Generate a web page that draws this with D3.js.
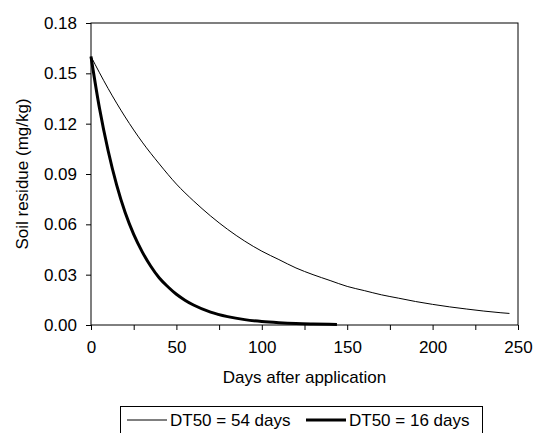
<!DOCTYPE html>
<html>
<head>
<meta charset="utf-8">
<script src="https://cdn.jsdelivr.net/npm/d3@7"></script>
<style>
  body { margin: 0; background: white; }
  text { font-family: "Liberation Sans", Arial, sans-serif; fill: black; }
</style>
</head>
<body>
<div id="chart"></div>
<script>
// Values.
let days54 = [0, 10, 20, 30, 40, 50, 60, 70, 80, 90, 100, 110, 120, 130, 140, 150, 160, 170, 180, 190, 200, 210, 220, 230, 240, 245];
let residue54 = [0.160, 0.141, 0.124, 0.109, 0.096, 0.084, 0.074, 0.065, 0.057, 0.050, 0.044, 0.039, 0.034, 0.030, 0.0265, 0.023, 0.0205, 0.018, 0.016, 0.014, 0.0123, 0.0108, 0.0095, 0.0083, 0.0073, 0.0069];

let days16 = [0, 5, 10, 15, 20, 25, 30, 35, 40, 45, 50, 55, 60, 70, 80, 90, 100, 110, 120, 130, 144];
let residue16 = [0.160, 0.129, 0.104, 0.0835, 0.067, 0.054, 0.0436, 0.035, 0.028, 0.0228, 0.0183, 0.0148, 0.0119, 0.0077, 0.0050, 0.0032, 0.0021, 0.0014, 0.0009, 0.0006, 0.0003];

let xTicks = [0, 50, 100, 150, 200, 250];
let xMinorTicks = [0, 25, 50, 75, 100, 125, 150, 175, 200, 225, 250];
let yTicks = [0, 0.03, 0.06, 0.09, 0.12, 0.15, 0.18];

let seriesNames = ["DT50 = 54 days", "DT50 = 16 days"];

let width = 533, height = 433;
let margin = {left: 91, right: 15, top: 23, bottom: 108};

let svg = d3.select("#chart").append("svg")
  .attr("width", width)
  .attr("height", height);

let x = d3.scaleLinear().domain([0, 250]).range([margin.left, width - margin.right]);
let y = d3.scaleLinear().domain([0, 0.18]).range([height - margin.bottom, margin.top]);

// Frame round the plot.
svg.append("rect")
  .attr("x", x(0))
  .attr("y", y(0.18))
  .attr("width", x(250) - x(0))
  .attr("height", y(0) - y(0.18))
  .attr("fill", "none")
  .attr("stroke", "black")
  .attr("stroke-width", 1);

// X axis: ticks every 25, labels every 50.
let xaxis = svg.append("g")
  .attr("transform", `translate(0,${y(0)})`)
  .call(d3.axisBottom(x).tickValues(xMinorTicks).tickSize(5).tickFormat(d => xTicks.includes(d) ? d : ""));
xaxis.select(".domain").remove();
xaxis.selectAll("text").style("font-size", "17px").attr("dy", "0").attr("y", 28);

// Y axis.
let yaxis = svg.append("g")
  .attr("transform", `translate(${x(0)},0)`)
  .call(d3.axisLeft(y).tickValues(yTicks).tickSize(5).tickFormat(d3.format(".2f")));
yaxis.select(".domain").remove();
yaxis.selectAll("text").style("font-size", "17px").attr("x", -14);

// Axis titles.
svg.append("text")
  .attr("x", (x(0) + x(250)) / 2)
  .attr("y", 383)
  .attr("text-anchor", "middle")
  .style("font-size", "17px")
  .text("Days after application");

svg.append("text")
  .attr("transform", `translate(28,${(y(0) + y(0.18)) / 2}) rotate(-90)`)
  .attr("text-anchor", "middle")
  .style("font-size", "17px")
  .text("Soil residue (mg/kg)");

// Curves.
let line = d3.line()
  .x(d => x(d[0]))
  .y(d => y(d[1]))
  .curve(d3.curveMonotoneX);

let series = [
  {name: seriesNames[0], points: days54.map((d, i) => [d, residue54[i]]), width: 1},
  {name: seriesNames[1], points: days16.map((d, i) => [d, residue16[i]]), width: 3}
];

svg.append("g").selectAll("path")
  .data(series)
  .enter()
  .append("path")
    .attr("d", d => line(d.points))
    .attr("fill", "none")
    .attr("stroke", "black")
    .attr("stroke-width", d => d.width)
    .attr("stroke-linejoin", "round");

// Legend.
let legend = svg.append("g");
legend.append("rect")
  .attr("x", 120.5)
  .attr("y", 406.5)
  .attr("width", 362)
  .attr("height", 40)
  .attr("fill", "white")
  .attr("stroke", "black")
  .attr("stroke-width", 1);

let legendX = [127, 306];
series.forEach((s, i) => {
  legend.append("line")
    .attr("x1", legendX[i])
    .attr("x2", legendX[i] + 40)
    .attr("y1", 420)
    .attr("y2", 420)
    .attr("stroke", "black")
    .attr("stroke-width", s.width);
  legend.append("text")
    .attr("x", legendX[i] + 43)
    .attr("y", 426)
    .style("font-size", "17px")
    .text(s.name);
});
</script>
</body>
</html>
